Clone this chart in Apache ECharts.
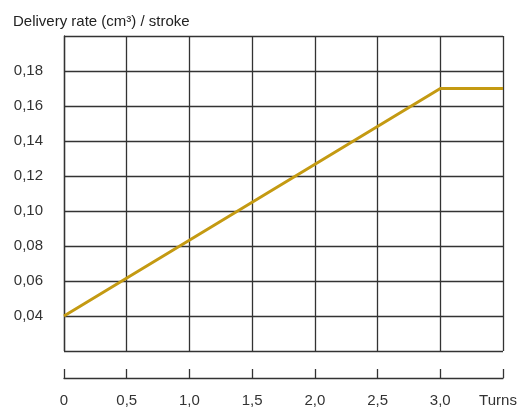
<!DOCTYPE html>
<html><head><meta charset="utf-8">
<script src="https://cdn.jsdelivr.net/npm/echarts@6/dist/echarts.min.js"></script>
<style>html,body{margin:0;padding:0;background:#fff}#c{width:520px;height:409px}</style>
</head><body><div id="c"></div>
<script>
const turns = [0, 3.0, 3.5];
const deliveryRate = [0.04, 0.17, 0.17];
const yTitle = 'Delivery rate (cm³) / stroke';
const xTitle = 'Turns';

const chart = echarts.init(document.getElementById('c'), null, {renderer:'canvas'});
const fmt = v => v.toFixed(2).replace('.', ',');
chart.setOption({
  animation: false,
  backgroundColor: '#fff',
  title: { text: yTitle, left: 8, top: 9, textStyle: { fontFamily: 'Liberation Sans', fontSize: 15, fontWeight: 'normal', color: '#222' } },
  grid: { left: 64, right: 17, top: 36, bottom: 58, containLabel: false },
  xAxis: {
    type: 'value', min: 0, max: 3.5, interval: 0.5, offset: 27,
    axisLine: { show: true, lineStyle: { color: '#333', width: 1.3 } },
    axisTick: { show: true, inside: true, length: 9, lineStyle: { color: '#333', width: 1.3 } },
    splitLine: { show: true, lineStyle: { color: '#333', width: 1.3 } },
    axisLabel: {
      margin: 15, color: '#333', fontFamily: 'Liberation Sans', fontSize: 15,
      showMaxLabel: true,
      formatter: v => v === 0 ? '0' : (Math.abs(v - 3.5) < 1e-9 ? '{t|' + xTitle + '}' : v.toFixed(1).replace('.', ',')),
      rich: { t: { padding: [0, 10, 0, 0], fontFamily: 'Liberation Sans', fontSize: 15, color: '#333' } }
    }
  },
  yAxis: {
    type: 'value', min: 0.02, max: 0.20, interval: 0.02,
    axisLine: { show: true, lineStyle: { color: '#333', width: 1.3 } },
    axisTick: { show: false },
    splitLine: { show: true, lineStyle: { color: '#333', width: 1.3 } },
    axisLabel: {
      margin: 21, color: '#333', fontFamily: 'Liberation Sans', fontSize: 15,
      formatter: v => (v < 0.03 || v > 0.19) ? '' : fmt(v)
    }
  },
  series: [{
    type: 'line', data: turns.map((t, i) => [t, deliveryRate[i]]),
    symbol: 'none', lineStyle: { color: '#C49A12', width: 3 }
  }]
});
</script></body></html>
